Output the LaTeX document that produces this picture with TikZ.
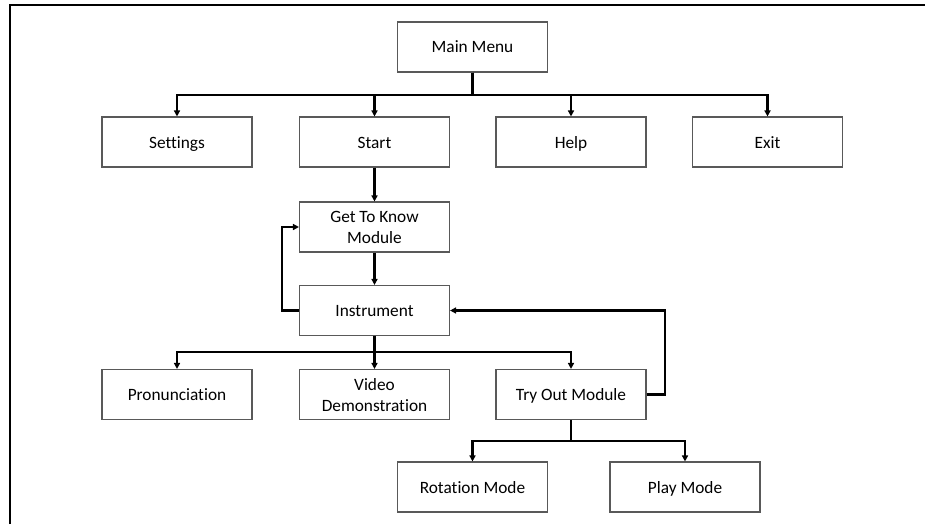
\documentclass[tikz,border=0pt]{standalone}
\usepackage{fontspec}
\setmainfont{Carlito}[Ligatures={NoCommon,NoContextual}]
\usetikzlibrary{arrows.meta}
\definecolor{boxline}{HTML}{595959}
% line strut: 16.5pt above and 4.5pt below the baseline
\newcommand{\boxstrut}{\rule[-4.5pt]{0pt}{21pt}}
\begin{document}
\begin{tikzpicture}[x=1pt,y=-1pt,
  menubox/.style={draw=boxline,line width=1.1pt,fill=white,minimum width=150pt,minimum height=50pt,
    inner sep=0pt,align=center,font=\fontsize{17.3}{21}\selectfont},
  link/.style={draw=black,line width=2.1pt,-{Triangle[length=6pt,width=6pt]}},
  frame/.style={draw=black,line width=2.2pt}]
\useasboundingbox (0,0) rectangle (925,524);
% outer frame (top and left edges)
\draw[frame] (10,524) -- (10,5) -- (925,5);
% boxes
\node[menubox] (main) at (472.5,47) {\boxstrut Main Menu};
\node[menubox] (settings) at (177,142) {\boxstrut Settings};
\node[menubox] (start) at (374.5,142) {\boxstrut Start};
\node[menubox] (help) at (571,142) {\boxstrut Help};
\node[menubox] (exit) at (767.5,142) {\boxstrut Exit};
\node[menubox] (gtk) at (374.5,227) {\boxstrut Get To Know\\\boxstrut Module};
\node[menubox] (instr) at (374.5,310.5) {\boxstrut Instrument};
\node[menubox] (pron) at (177,394.5) {\boxstrut Pronunciation};
\node[menubox] (video) at (374.5,394.5) {\boxstrut Video\\\boxstrut Demonstration};
\node[menubox] (tryout) at (571,394.5) {\boxstrut Try Out Module};
\node[menubox] (rot) at (472.5,487) {\boxstrut Rotation Mode};
\node[menubox] (play) at (685,487) {\boxstrut Play Mode};
% bus levels
\coordinate (bus1) at (472.5,95);
\coordinate (bus2) at (374.5,352);
\coordinate (bus3) at (571,441);
% main menu branches
\foreach \t in {settings,start,help,exit}
  \draw[link] (main.south) -- (main.south |- bus1) -| (\t.north);
\draw[link] (start.south) -- (gtk.north);
\draw[link] (gtk.south) -- (instr.north);
% return to the module
\draw[link] (instr.west) -- ++(-17,0) |- (gtk.west);
% instrument branches
\foreach \t in {pron,video,tryout}
  \draw[link] (instr.south) -- (instr.south |- bus2) -| (\t.north);
% try out branches
\foreach \t in {rot,play}
  \draw[link] (tryout.south) -- (tryout.south |- bus3) -| (\t.north);
% back to instrument
\draw[link] (tryout.east) -- ++(18,0) |- (instr.east);
\end{tikzpicture}
\end{document}
